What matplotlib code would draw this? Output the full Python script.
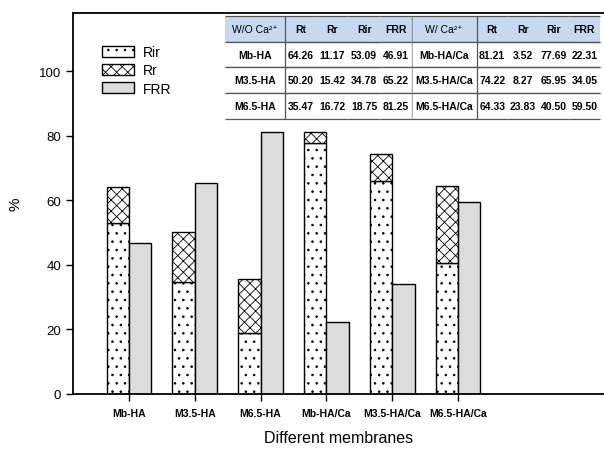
import numpy as np
import matplotlib
matplotlib.use("Agg")
import matplotlib.pyplot as plt
from matplotlib.patches import Rectangle

plt.rcParams["font.family"] = ["Liberation Sans", "DejaVu Sans"]
plt.rcParams["hatch.linewidth"] = 0.6

# data
membranes = ["Mb-HA", "M3.5-HA", "M6.5-HA", "Mb-HA/Ca", "M3.5-HA/Ca", "M6.5-HA/Ca"]
rt = [64.26, 50.20, 35.47, 81.21, 74.22, 64.33]
rr = [11.17, 15.42, 16.72, 3.52, 8.27, 23.83]
rir = [53.09, 34.78, 18.75, 77.69, 65.95, 40.50]
frr = [46.91, 65.22, 81.25, 22.31, 34.05, 59.50]

table_cols = ["Rt", "Rr", "Rir", "FRR"]

fig = plt.figure(figsize=(6.04, 4.52), dpi=100)
ax = fig.add_axes([73 / 604, 57 / 452, 531 / 604, 381 / 452])

x = np.arange(1, len(membranes) + 1)
w = 0.34
ax.bar(x - w / 2, rir, w, facecolor="white", edgecolor="black", lw=1, hatch="..", label="Rir")
ax.bar(x - w / 2, rr, w, bottom=rir, facecolor="white", edgecolor="black", lw=1, hatch="xxx", label="Rr")
ax.bar(x + w / 2, frr, w, facecolor="#dcdcdc", edgecolor="black", lw=1, label="FRR")

ax.set_xlim(0.149, 8.22)
ax.set_ylim(0, 118)
ax.set_yticks([0, 20, 40, 60, 80, 100])
ax.set_xticks(x)
ax.set_xticklabels(membranes, fontsize=7.5, fontweight="bold")
ax.tick_params(axis="y", labelsize=9.5, direction="out", length=5, width=1)
ax.tick_params(axis="x", direction="out", length=5, width=1, pad=5)
ax.spines["right"].set_visible(False)
for s in ["left", "bottom", "top"]:
    ax.spines[s].set_linewidth(1.3)
ax.set_ylabel("%", fontsize=11, labelpad=12)
ax.set_xlabel("Different membranes", fontsize=11.5, labelpad=9)

leg = ax.legend(loc="upper left", bbox_to_anchor=(0.045, 0.93), frameon=False,
                fontsize=10, handlelength=2.3, handleheight=0.8,
                labelspacing=0.3, handletextpad=0.6, borderaxespad=0)

# table in upper right
rows = []
for i in range(3):
    rows.append([membranes[i]] + ["%.2f" % v for v in (rt[i], rr[i], rir[i], frr[i])]
                + [membranes[i + 3]] + ["%.2f" % v for v in (rt[i + 3], rr[i + 3], rir[i + 3], frr[i + 3])])
header = ["W/O Ca²⁺"] + table_cols + ["W/ Ca²⁺"] + table_cols
widths = [60] + [31.75] * 4 + [65] + [30.75] * 4
tb_box = [0.286, 0.722, 0.706, 0.270]
tb = ax.table(cellText=rows, colLabels=header, colWidths=[c / 531 for c in widths],
              cellLoc="center", bbox=tb_box)
tb.set_zorder(4)
tb.auto_set_font_size(False)
for (r, c), cell in tb.get_celld().items():
    cell.set_edgecolor("#555555")
    cell.set_linewidth(0.9)
    cell.PAD = 0.02
    cell.get_text().set_fontsize(7.5)
    cell.get_text().set_fontweight("normal" if (r == 0 and c in (0, 5)) else "bold")
    if c in (0, 4, 5):
        cell.visible_edges = "TBR"
    else:
        cell.visible_edges = "TB"
    cell.set_facecolor("#c6d9f1" if r == 0 else "white")

# header background (open-edged cells are not filled)
head_h = tb_box[3] / 4
ax.add_patch(Rectangle((tb_box[0], tb_box[1] + tb_box[3] - head_h), tb_box[2], head_h,
                       transform=ax.transAxes, facecolor="#c6d9f1", edgecolor="none", zorder=3))

fig.savefig("out.png", dpi=100)
